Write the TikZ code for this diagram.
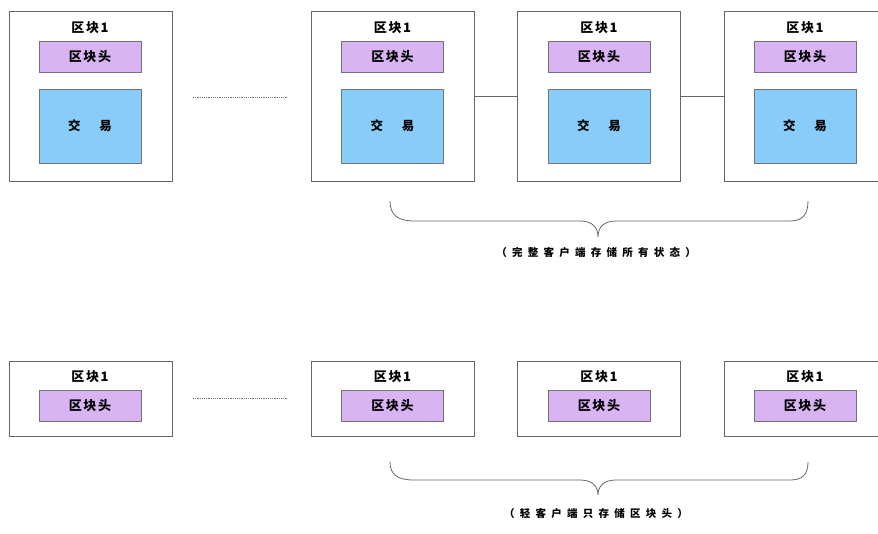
\documentclass[tikz,border=0pt]{standalone}
\usepackage{fontspec}
\setmainfont{Noto Sans CJK SC}
\newfontfamily\labfont[LetterSpace=50]{Noto Sans CJK SC}
\newfontfamily\boxfont[LetterSpace=12]{Noto Sans CJK SC}
\begin{document}
\begin{tikzpicture}[x=1pt,y=-1pt,
  blockbox/.style={draw=black!60,line width=0.9pt,fill=white,inner sep=0pt},
  headbox/.style={draw=black!55,line width=0.8pt,minimum width=102pt,minimum height=31pt,inner sep=0pt,font=\boxfont\bfseries\fontsize{13}{15}\selectfont},
  txbox/.style={draw=black!55,line width=0.8pt,minimum width=102pt,minimum height=74pt,inner sep=0pt,font=\bfseries\fontsize{12.5}{15}\selectfont},
  titletext/.style={inner sep=0pt,font=\boxfont\bfseries\fontsize{13}{15}\selectfont},
  link/.style={draw=black!60,line width=0.8pt},
  dotlink/.style={draw=black!55,line width=0.7pt,dash pattern=on 1.2pt off 1pt},
  bracestyle/.style={draw=black!60,line width=0.8pt},
  labtext/.style={inner sep=0pt,font=\labfont\bfseries\fontsize{10.5}{12}\selectfont}]
\useasboundingbox (0,0) rectangle (878,533);
\definecolor{hdr}{HTML}{D8B4F2}
\definecolor{txc}{HTML}{88CCFA}
\tikzset{headbox/.append style={fill=hdr},txbox/.append style={fill=txc}}
% ---------- top row ----------
\foreach \nm/\cx/\hx in {A/91/90,B/392.5/392.5,C/598.5/599,D/805.5/805}{
  \node[blockbox,minimum width=163pt,minimum height=170pt] (t\nm) at (\cx,96) {};
  \node[titletext] (tt\nm) at (\hx,28) {区块1};
  \node[headbox] (th\nm) at (\hx,56.5) {区块头};
  \node[txbox] (tx\nm) at (\hx,126) {交\hspace{1.5em}易};
}
\draw[link] (tB.east) -- (tC.west);
\draw[link] (tC.east) -- (tD.west);
\coordinate (td1) at (193,97);
\coordinate (td2) at (287,97);
\draw[dotlink] (td1) -- (td2);
% brace top
\coordinate (b1s) at (390,201);
\coordinate (b1t) at (598,237);
\coordinate (b1e) at (808,201);
\draw[bracestyle] (b1s) .. controls (390,215) and (398,221) .. (414,221) -- (580,221)
  .. controls (592,221) and (598,227) .. (b1t)
  .. controls (598,227) and (604,221) .. (616,221) -- (790,221)
  .. controls (802,221) and (808,215) .. (b1e);
\node[labtext] (lab1) at (596,252) {（完整客户端存储所有状态）};
% ---------- bottom row ----------
\foreach \nm/\cx/\hx in {A/91/90,B/392.5/392.5,C/598.5/599,D/805.5/805}{
  \node[blockbox,minimum width=163pt,minimum height=75pt] (b\nm) at (\cx,398.5) {};
  \node[titletext] (bt\nm) at (\hx,377) {区块1};
  \node[headbox] (bh\nm) at (\hx,405.5) {区块头};
}
\coordinate (bd1) at (193,398);
\coordinate (bd2) at (287,398);
\draw[dotlink] (bd1) -- (bd2);
\coordinate (b2s) at (390,462);
\coordinate (b2t) at (598,495);
\coordinate (b2e) at (808,462);
\draw[bracestyle] (b2s) .. controls (390,475) and (398,480) .. (414,480) -- (580,480)
  .. controls (592,480) and (598,486) .. (b2t)
  .. controls (598,486) and (604,480) .. (616,480) -- (790,480)
  .. controls (802,480) and (808,475) .. (b2e);
\node[labtext] (lab2) at (596,513) {（轻客户端只存储区块头）};
\end{tikzpicture}
\end{document}
